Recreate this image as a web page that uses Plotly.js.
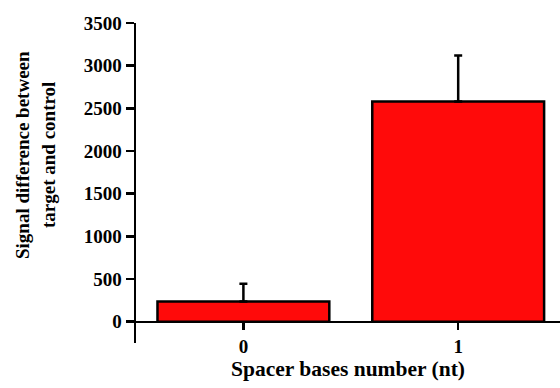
<!DOCTYPE html>
<html><head><meta charset="utf-8">
<script src="https://cdn.plot.ly/plotly-3.0.1.min.js"></script>
<style>html,body{margin:0;padding:0;background:#fff}#chart{width:560px;height:388px}</style>
</head><body><div id="chart"></div>
<script>
const categories = [0, 1];
const tickLabels = ['0', '1'];
const values = [235, 2580];
const errorsUp = [210, 540];
const errorsDown = [0, 0];
const yTitleLines = ['Signal difference between', 'target and control'];
const xTitle = 'Spacer bases number (nt)';

const yMin = -250, yMax = 3500;
const fam = 'Liberation Serif, Times New Roman, serif';
const titleFont = {family: fam, size: 19, weight: 'bold', color: '#000'};

Plotly.newPlot('chart', [{
  type: 'bar',
  x: categories,
  y: values,
  width: 0.8,
  marker: {color: '#FF0A0A', line: {color: '#000', width: 2.5}},
  error_y: {type: 'data', symmetric: false, array: errorsUp, arrayminus: errorsDown,
            color: '#000', thickness: 2.5, width: 4}
}], {
  width: 560, height: 388,
  margin: {l: 136, r: 0, t: 23, b: 45},
  paper_bgcolor: '#fff', plot_bgcolor: '#fff',
  showlegend: false,
  font: {family: fam, color: '#000', size: 19, weight: 'bold'},
  xaxis: {
    range: [-0.5, 1.474],
    tickvals: categories, ticktext: tickLabels,
    anchor: 'free', position: (0 - yMin) / (yMax - yMin),
    showline: true, linecolor: '#000', linewidth: 2.5,
    ticks: 'outside', ticklen: 7, tickwidth: 2.5, tickcolor: '#000',
    showgrid: false, zeroline: false,
    tickfont: {family: fam, size: 19, weight: 'bold', color: '#000'},
    title: {text: xTitle, standoff: 4,
            font: {family: fam, size: 21.5, weight: 'bold', color: '#000'}}
  },
  yaxis: {
    range: [yMin, yMax],
    tickvals: [0, 500, 1000, 1500, 2000, 2500, 3000, 3500],
    showline: true, linecolor: '#000', linewidth: 2.5,
    ticks: 'outside', ticklen: 8, tickwidth: 2.5, tickcolor: '#000',
    showgrid: false, zeroline: false,
    tickfont: {family: fam, size: 19, weight: 'bold', color: '#000'}
  },
  annotations: [
    {text: yTitleLines[0], textangle: -90, showarrow: false,
     xref: 'paper', yref: 'paper', x: -0.2689, y: 0.5875,
     xanchor: 'center', yanchor: 'middle', font: titleFont},
    {text: yTitleLines[1], textangle: -90, showarrow: false,
     xref: 'paper', yref: 'paper', x: -0.2075, y: 0.5875,
     xanchor: 'center', yanchor: 'middle', font: titleFont}
  ]
}, {displayModeBar: false, staticPlot: true});
</script></body></html>
